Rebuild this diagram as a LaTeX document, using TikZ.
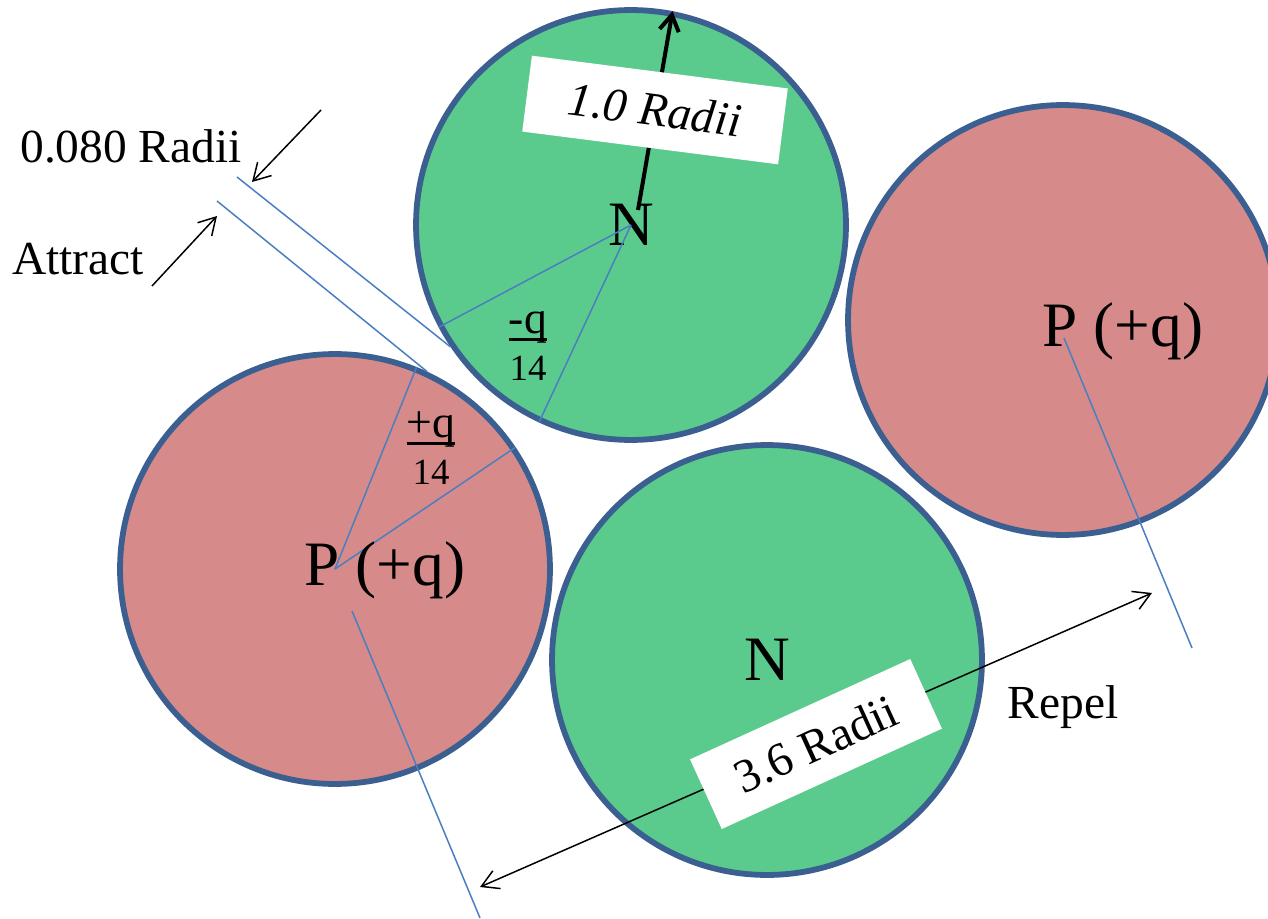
\documentclass[tikz,border=0pt]{standalone}
\usepackage{fontspec}
\setmainfont{Liberation Serif}
\usetikzlibrary{arrows.meta}
\definecolor{cGreen}{HTML}{5ACB8D}
\definecolor{cPink}{HTML}{D68B8A}
\definecolor{cRim}{HTML}{3C5F91}
\definecolor{cGuide}{HTML}{4A7EC1}
\newcommand{\chargebar}[1]{\leavevmode\setbox0\hbox{#1}\rlap{\rule[-0.17em]{\wd0}{0.065em}}\box0}

\begin{document}
\begin{tikzpicture}[x=0.02cm,y=-0.02cm,
  ball/.style={circle,draw=cRim,line width=3.3pt,minimum size=8.6cm,inner sep=0pt},
  neut/.style={ball,fill=cGreen,font=\fontsize{36}{40}\selectfont},
  prot/.style={ball,fill=cPink},
  guide/.style={cGuide,line width=0.85pt},
  ar/.style={-{Straight Barb[length=9.5pt,width=11pt]},line width=0.85pt},
  dar/.style={{Straight Barb[length=9.5pt,width=11pt]}-{Straight Barb[length=9.5pt,width=11pt]},
              line width=0.85pt},
  thick ar/.style={-{Straight Barb[length=9pt,width=11pt]},line width=2.3pt},
  tag/.style={fill=white,inner sep=0pt,minimum height=1.53cm,
              font=\fontsize{27}{30}\selectfont},
  big/.style={font=\fontsize{36}{40}\selectfont,inner sep=0pt},
  mid/.style={font=\fontsize{27}{30}\selectfont,inner sep=0pt},
  frac/.style={font=\fontsize{21}{27}\selectfont,align=center,inner sep=0pt}]

\useasboundingbox (0,0) rectangle (1268,919);

\node[neut] (nT) at (631,225) {N};
\node[prot] (pR) at (1063,320) {};
\node[prot] (pL) at (335,569) {};
\node[neut] (nB) at (767,660) {N};

\coordinate (g1) at (237,177);
\coordinate (g2) at (217,201);
\coordinate (gR) at (1064,338);
\coordinate (gRe) at (1192,648);
\coordinate (gL) at (352,611);
\coordinate (gLe) at (480,918);

\draw[guide] (g1) -- (nT.214);
\draw[guide] (g2) -- (pL.65);
\draw[guide] (nT.center) -- (nT.208);
\draw[guide] (nT.center) -- (nT.245);
\draw[guide] (pL.center) -- (pL.68);
\draw[guide] (pL.center) -- (pL.34);
\draw[guide] (gR) -- (gRe);
\draw[guide] (gL) -- (gLe);

\coordinate (a1s) at (321,110);
\coordinate (a1e) at (252,182);
\coordinate (a2s) at (152,286);
\coordinate (a2e) at (217,216);
\coordinate (rad) at (638,210);
\coordinate (span1) at (480,887);
\coordinate (span2) at (1152,593);

\draw[ar] (a1s) -- (a1e);
\draw[ar] (a2s) -- (a2e);
\draw[thick ar] (rad) -- (nT.79);
\draw[dar] (span1) -- (span2);

\node[tag,rotate=-7.3,minimum width=5.16cm] (r1) at (655,110) {\itshape 1.0 Radii\hspace{0.8cm}};
\node[tag,rotate=24.5,minimum width=4.84cm] (r2) at (816,744) {3.6 Radii\hspace{0.48cm}};

\node[big] (pLt) at (385,570) {P (+q)};
\node[big] (pRt) at (1123,331) {P (+q)};
\node[frac] (qN) at (528,346) {{\fontsize{26}{27}\selectfont\chargebar{-q}}\\14};
\node[frac] (qP) at (431,448) {{\fontsize{26}{27}\selectfont\chargebar{+q}}\\14};
\node[mid] (gap) at (131,146) {0.080 Radii};
\node[mid] (att) at (78,259) {Attract};
\node[mid] (rep) at (1063,707) {Repel};
\end{tikzpicture}
\end{document}
